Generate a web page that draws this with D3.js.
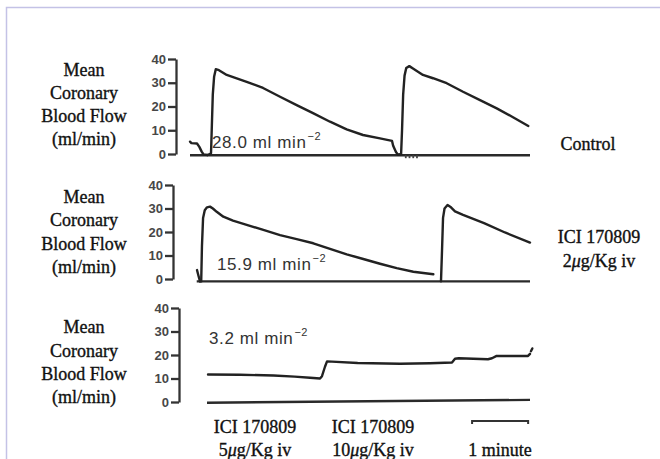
<!DOCTYPE html>
<html><head><meta charset="utf-8">
<script src="https://cdn.jsdelivr.net/npm/d3@7"></script>
<style>
html,body{margin:0;padding:0;background:#fff;}
svg{display:block;}
</style></head>
<body>
<svg id="chart" width="660" height="459"></svg>
<script>
// ---------- DATA ----------
const yTicks = [0, 10, 20, 30, 40];
const axisLabelLines = ["Mean", "Coronary", "Blood Flow", "(ml/min)"];
const panelNames = ["Control", "ICI 170809|2μg/Kg iv", ""];
const slopeLabels = ["28.0", "15.9", "3.2"];
const doseLabels = ["ICI 170809|5μg/Kg iv", "ICI 170809|10μg/Kg iv"];
const scaleBarSeconds = [302, 362];
const scaleBarLabel = "1 minute";

// time (s), flow (ml/min)
const ctrlPre = [[0,5.2],[1.5,4.6],[7.5,4.4],[10,3],[12.5,1],[14.5,-0.2],[19,-0.4]];
const ctrlWave1 = [[19,-0.4],[22.5,0.3],[23.4,12],[24.4,25],[25.8,32.5],[27.6,35.7],[31,35.3],[39.3,33.3],[60.7,30.4],[78.2,27.8],[96.4,24.1],[114.2,20.6],[131.7,17.2],[149.9,13.6],[167.7,10.4],[185.2,8.0],[203.4,6.6],[216.3,5.5],[217.5,3.5],[220.5,0.8],[222.7,-0.3]];
const ctrlWave2 = [[222.7,-0.3],[226,0],[227,10],[228.2,25],[229.7,33],[231.5,36.2],[234.8,37],[238.7,36],[249.4,33.3],[260.2,31.9],[274.8,29.8],[292.3,26.2],[310.5,22.7],[328.4,19.2],[345.8,15.5],[362.2,11.8]];
const ctrlZero = [[0,-0.5],[364,-0.5]];
const ctrlMarks = [231, 235, 239, 243];

const ici2Pre = [[7.5,3.8],[9,1.5],[10.7,-1]];
const ici2Wave1 = [[10.7,-1],[12,-1],[12.8,14],[14,26],[15.8,29.3],[18.2,30.5],[21.4,30.8],[24.5,30],[28.6,28.6],[35.7,26.5],[46,24.8],[60.7,23],[78.5,20.9],[96.4,18.7],[114.2,17],[132,15.2],[149.9,12.8],[167.8,10.5],[185.5,8.5],[203.4,6.5],[221.3,4.6],[239.1,3.1],[260.5,2]];
const ici2Wave2 = [[268.7,-1],[269.8,12],[270.9,26],[272.5,30],[275.7,31.5],[279.4,30.5],[283.7,28.8],[292.3,27.3],[314.8,23.8],[337.2,19.8],[364,15.5]];
const ici2Zero = [[7.2,-1],[364,-1]];

const ici5Trace = [[19.3,11.7],[53.5,11.6],[89.5,11.3],[112,10.8],[128.5,10.3],[139.2,10.0],[141.3,11],[144.5,15],[146.7,17.3],[152,17.2],[179.5,16.6],[224.8,16.3],[257,16.5],[280.5,16.8],[283.7,18.4],[287.7,18.6],[319,18.2],[323.3,18.6],[328.3,19.6],[361.9,19.6],[364,20.5]];
const ici5Tail = [[365,21.6],[366.5,22.8]];
const ici5Zero = [[18.2,-0.3],[364,0.9]];

// ---------- LAYOUT ----------
const svg = d3.select("#chart");
svg.append("rect").attr("width",660).attr("height",459).attr("fill","#fff");
svg.append("path").attr("d","M6.5,459 V7.5 H660").attr("fill","none")
  .attr("stroke","#c4c2e6").attr("stroke-width",1.5);

const x = d3.scaleLinear().domain([0,364]).range([190,530]);

const panels = [
  {yr:[154,59], ax:176, label:[75.6,99,122,145], traces:[ctrlPre,ctrlWave1,ctrlWave2], zero:ctrlZero, marks:ctrlMarks,
   slope:{x:212, y:148}, name:{x:588, y:[150]}},
  {yr:[279,185], ax:173, label:[202.5,226,249.5,273], traces:[ici2Pre,ici2Wave1,ici2Wave2], zero:ici2Zero, marks:[],
   slope:{x:217, y:270}, name:{x:599, y:[243,267]}},
  {yr:[402,308], ax:179, label:[333,357,380,403], traces:[ici5Trace,ici5Tail], zero:ici5Zero, marks:[],
   slope:{x:209, y:343.5}, name:null}
];

const serif = "'Liberation Serif','Times New Roman',serif";
const sans = "'Liberation Sans',Arial,sans-serif";

function serifText(sel){
  return sel.attr("font-family",serif).attr("font-size",18).attr("fill","#111")
    .attr("stroke","#111").attr("stroke-width",0.35);
}

function addMu(sel, str){
  const parts = str.split("μ");
  sel.append("tspan").text(parts[0]);
  if(parts.length>1){
    sel.append("tspan").attr("font-style","italic").text("μ");
    sel.append("tspan").text(parts[1]);
  }
}

panels.forEach((p,i)=>{
  const y = d3.scaleLinear().domain([0,40]).range(p.yr);
  const g = svg.append("g");

  // left label
  axisLabelLines.forEach((t,j)=>{
    serifText(g.append("text").attr("x",84).attr("y",p.label[j]).attr("text-anchor","middle")).text(t);
  });

  // axis
  const axis = d3.axisLeft(y).tickValues(yTicks).tickSize(8).tickPadding(2).tickSizeOuter(0);
  const ag = g.append("g").attr("transform",`translate(${p.ax},0)`).call(axis);
  ag.select(".domain").attr("stroke","#333").attr("stroke-width",2.3);
  ag.selectAll(".tick line").attr("stroke","#333").attr("stroke-width",2.3);
  ag.selectAll(".tick text").attr("font-family",sans).attr("font-size",13)
    .attr("font-weight","bold").attr("fill","#474747");

  const lineL = d3.line().x(d=>x(d[0])).y(d=>y(d[1]));

  // zero line
  g.append("path").attr("d",lineL(p.zero)).attr("fill","none").attr("stroke","#2a2a2a").attr("stroke-width",2.4);
  p.marks.forEach(t=>{
    g.append("line").attr("x1",x(t)).attr("x2",x(t)).attr("y1",y(p.zero[0][1])).attr("y2",y(p.zero[0][1])+3)
      .attr("stroke","#444").attr("stroke-width",1.8);
  });

  // traces
  p.traces.forEach(tr=>{
    g.append("path").attr("d",lineL(tr)).attr("fill","none").attr("stroke","#222")
      .attr("stroke-width",2.4).attr("stroke-linejoin","round").attr("stroke-linecap","round");
  });

  // slope annotation
  const st = g.append("text").attr("x",p.slope.x).attr("y",p.slope.y).attr("font-family",sans)
    .attr("font-size",17).attr("letter-spacing",0.6).attr("fill","#333");
  st.append("tspan").text(slopeLabels[i] + " ml min");
  st.append("tspan").attr("dx",1).attr("dy",-8).attr("font-size",11).attr("letter-spacing",0.5).text("−2");

  // right label
  if(p.name){
    panelNames[i].split("|").forEach((t,j)=>{
      const tx = serifText(g.append("text").attr("x",p.name.x).attr("y",p.name.y[j]).attr("text-anchor","middle"));
      addMu(tx,t);
    });
  }
});

// bottom dose labels
const doseX = [255, 373];
doseLabels.forEach((d,i)=>{
  d.split("|").forEach((t,j)=>{
    const tx = serifText(svg.append("text").attr("x",doseX[i]).attr("y",[433,456][j]).attr("text-anchor","middle"));
    addMu(tx,t);
  });
});

// scale bar
const sbY = 421;
svg.append("path").attr("d",`M${x(scaleBarSeconds[0])},${sbY+3} V${sbY} H${x(scaleBarSeconds[1])} V${sbY+3}`)
  .attr("fill","none").attr("stroke","#333").attr("stroke-width",2);
serifText(svg.append("text").attr("x",(x(scaleBarSeconds[0])+x(scaleBarSeconds[1]))/2).attr("y",456)
  .attr("text-anchor","middle")).text(scaleBarLabel);
</script>
</body></html>
